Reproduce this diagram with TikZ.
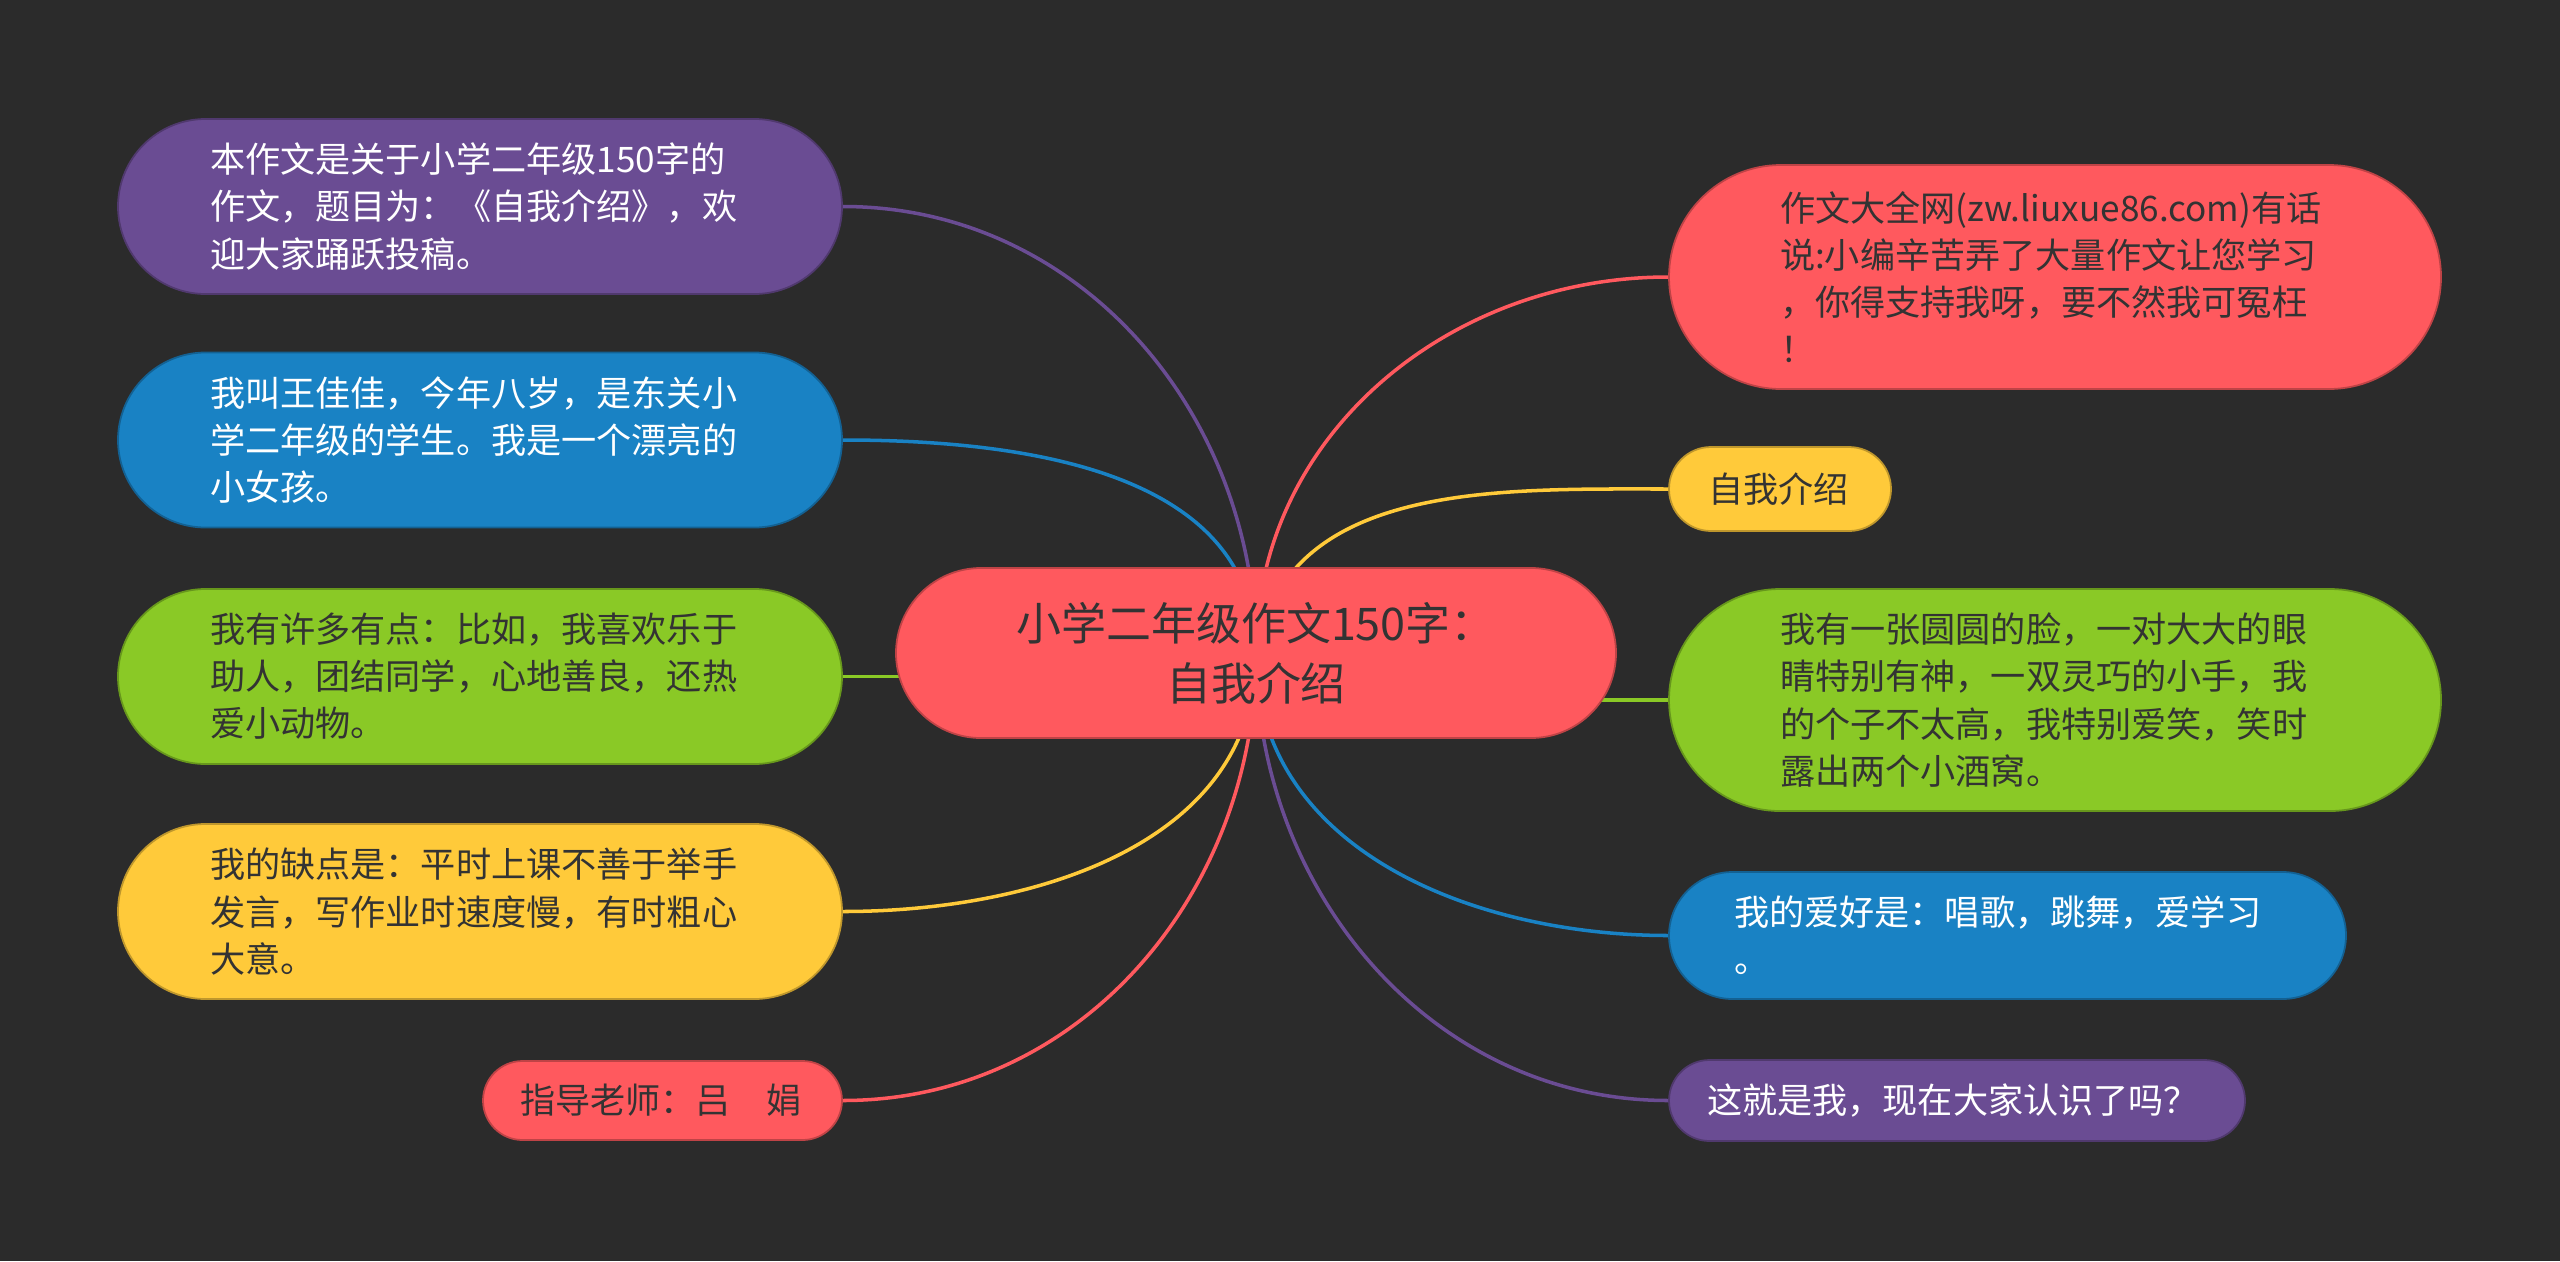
\documentclass[tikz,border=0pt]{standalone}
\usepackage{fontspec}
\setmainfont{Noto Sans CJK SC}

\definecolor{sfondo}{HTML}{2B2B2B}
\definecolor{viola}{HTML}{6A4C93}
\definecolor{blu}{HTML}{1982C4}
\definecolor{verde}{HTML}{8AC926}
\definecolor{giallo}{HTML}{FFCA3A}
\definecolor{rosso}{HTML}{FF595E}
\definecolor{testo}{HTML}{333333}

\pgfdeclarelayer{fondo}
\pgfdeclarelayer{rami}
\pgfsetlayers{fondo,rami,main}

\tikzset{
  foglia/.style={rectangle, align=left, font=\fontsize{10}{13.4}\selectfont, text=testo, line width=0.5pt},
  pill/.style={minimum height=#1, rounded corners=#1/2},
  ramo/.style={line width=1pt},
}

\begin{document}
\begin{tikzpicture}
  % Sfondo
  \begin{pgfonlayer}{fondo}
    \fill[sfondo] (0,0) rectangle (25.6,-12.61);
  \end{pgfonlayer}

  % Nodo centrale
  \node[rectangle, pill=1.7cm, fill=rosso, draw=rosso!75!black, line width=0.5pt, text=testo, align=center,
        font=\fontsize{12.8}{17}\selectfont, text width=6cm, inner xsep=0.6cm] (centro) at (12.56,-6.53)
        {小学二年级作文150字：\\自我介绍};

  % Nodi a sinistra
  \node[foglia, pill=1.75cm, fill=viola, draw=viola!75!black, text=white, text width=5.4cm, inner xsep=0.92cm] (n1) at (4.80,-2.065)
        {本作文是关于小学二年级150字的\\作文，题目为：《自我介绍》，欢\\迎大家踊跃投稿。};
  \node[foglia, pill=1.75cm, fill=blu, draw=blu!75!black, text=white, text width=5.4cm, inner xsep=0.92cm] (n2) at (4.80,-4.40)
        {我叫王佳佳，今年八岁，是东关小\\学二年级的学生。我是一个漂亮的\\小女孩。};
  \node[foglia, pill=1.75cm, fill=verde, draw=verde!75!black, text width=5.4cm, inner xsep=0.92cm] (n3) at (4.80,-6.765)
        {我有许多有点：比如，我喜欢乐于\\助人，团结同学，心地善良，还热\\爱小动物。};
  \node[foglia, pill=1.75cm, fill=giallo, draw=giallo!75!black, text width=5.4cm, inner xsep=0.92cm] (n4) at (4.80,-9.115)
        {我的缺点是：平时上课不善于举手\\发言，写作业时速度慢，有时粗心\\大意。};
  \node[foglia, pill=0.79cm, fill=rosso, draw=rosso!75!black, text width=2.85cm, inner xsep=0.37cm] (n5) at (6.625,-11.005)
        {指导老师：吕　娟};

  % Nodi a destra
  \node[foglia, pill=2.24cm, fill=rosso, draw=rosso!75!black, text width=5.5cm, inner xsep=1.11cm] (m1) at (20.55,-2.77)
        {作文大全网(zw.liuxue86.com)有话\\说:小编辛苦弄了大量作文让您学习\\，你得支持我呀，要不然我可冤枉\\！};
  \node[foglia, pill=0.84cm, fill=giallo, draw=giallo!75!black, text width=1.44cm, inner xsep=0.39cm] (m2) at (17.80,-4.89)
        {自我介绍};
  \node[foglia, pill=2.22cm, fill=verde, draw=verde!75!black, text width=5.5cm, inner xsep=1.11cm] (m3) at (20.55,-7.00)
        {我有一张圆圆的脸，一对大大的眼\\睛特别有神，一双灵巧的小手，我\\的个子不太高，我特别爱笑，笑时\\露出两个小酒窝。};
  \node[foglia, pill=1.27cm, fill=blu, draw=blu!75!black, text=white, text width=5.47cm, inner xsep=0.65cm] (m4) at (20.075,-9.355)
        {我的爱好是：唱歌，跳舞，爱学习\\。};
  \node[foglia, pill=0.81cm, fill=viola, draw=viola!75!black, text=white, text width=5.0cm, inner xsep=0.38cm] (m5) at (19.57,-11.005)
        {这就是我，现在大家认识了吗？};

  % Rami
  \begin{pgfonlayer}{rami}
    \draw[ramo, viola] (centro.center) to[out=90, in=0] (n1.east);
    \draw[ramo, blu] (centro.center) to[out=90, in=0] (n2.east);
    \draw[ramo, verde] (n3.east) -- (n3.east -| centro.center);
    \draw[ramo, giallo] (centro.center) to[out=-90, in=0] (n4.east);
    \draw[ramo, rosso] (centro.center) to[out=-90, in=0] (n5.east);
    \draw[ramo, rosso] (centro.center) to[out=90, in=180] (m1.west);
    \draw[ramo, giallo] (centro.center) to[out=80, in=180] (m2.west);
    \draw[ramo, verde] (m3.west) -- (m3.west -| centro.center);
    \draw[ramo, blu] (centro.center) to[out=-90, in=180] (m4.west);
    \draw[ramo, viola] (centro.center) to[out=-90, in=180] (m5.west);
  \end{pgfonlayer}
\end{tikzpicture}
\end{document}
